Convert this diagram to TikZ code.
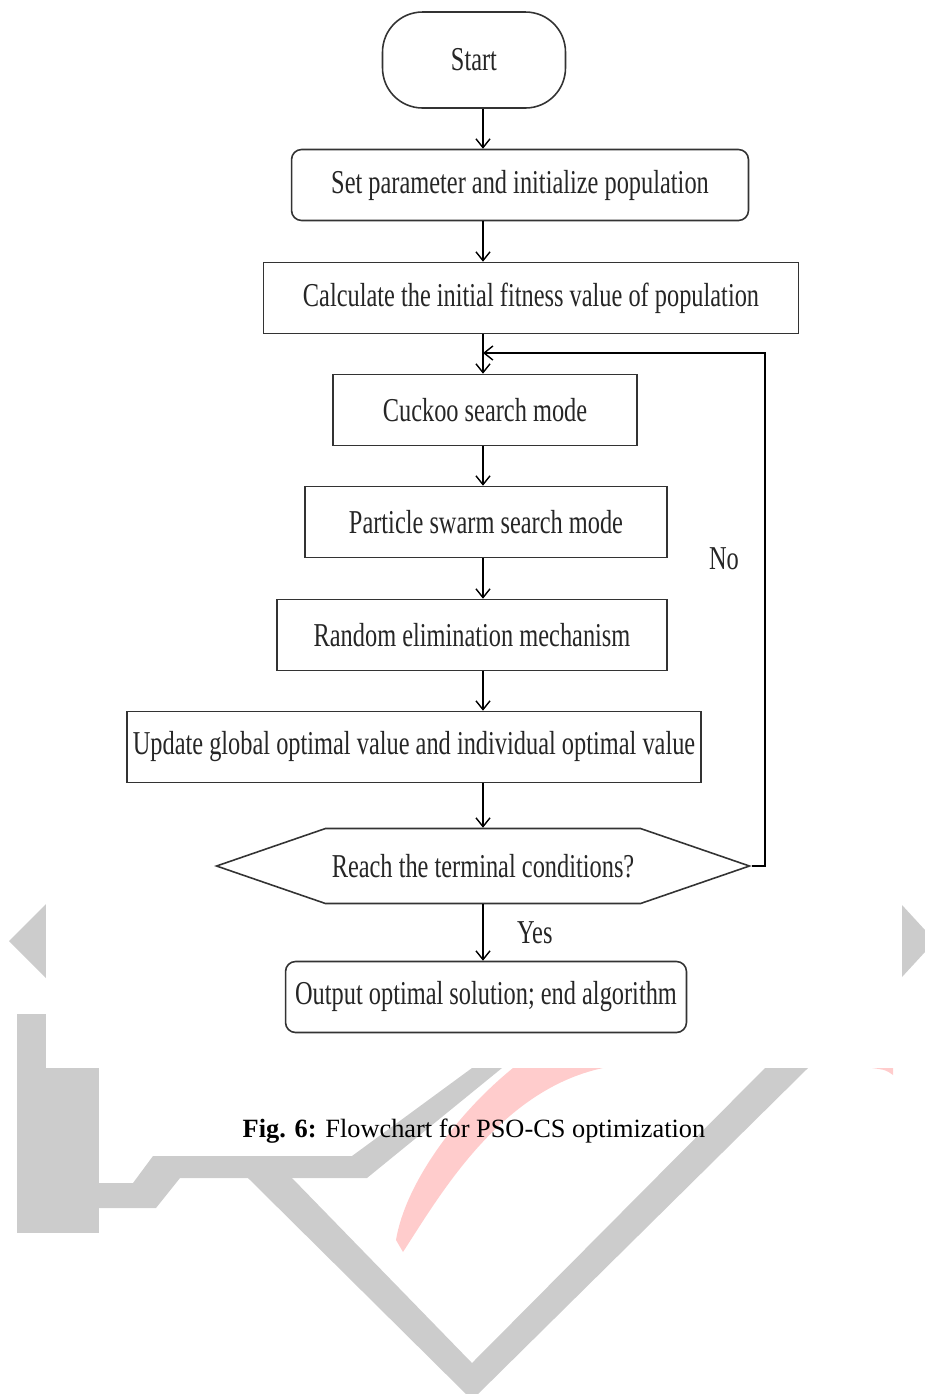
\documentclass[tikz,border=0pt]{standalone}
\usepackage{fontspec}
\setmainfont{Liberation Serif}
\newfontfamily\chartfont[FakeStretch=0.73]{Liberation Serif}
\usetikzlibrary{arrows.meta,shapes.symbols}

\begin{document}
\begin{tikzpicture}[x=0.02cm, y=-0.02cm, line width=0.8pt,
    >={Straight Barb[length=5pt,width=8pt]},
    every node/.style={font=\chartfont\fontsize{19}{22}\selectfont, text=black!85},
    box/.style={draw=black!80, line width=0.9pt, minimum height=1.42cm},
    mark grey/.style={fill=black!20, draw=none},
    mark pink/.style={fill=red!20, draw=none}]
    \useasboundingbox (0,0) rectangle (925,1394);
    \clip (0,0) rectangle (925,1394);

    % watermark behind the figure
    \fill[mark grey] (46,904) -- (9,941) -- (46,978) -- cycle;
    \fill[mark grey] (902,905) -- (925,930) -- (925,952) -- (902,977) -- cycle;
    \fill[mark grey] (17,1014) rectangle (99,1233);
    \fill[mark grey] (99,1183) -- (133,1183) -- (153,1156) -- (352,1156) -- (472,1068)
        -- (502,1068) -- (367,1178) -- (180,1178) -- (156,1208) -- (99,1208) -- cycle;
    \fill[mark grey] (248,1178) -- (472,1400) -- (808,1068) -- (765,1068) -- (472,1363)
        -- (292,1178) -- cycle;
    \fill[mark pink] (513,1068) .. controls (455,1115) and (405,1185) .. (396,1240)
        -- (403,1252) .. controls (440,1195) and (500,1090) .. (603,1068) -- cycle;
    \fill[mark pink] (872,1068) -- (893,1068) -- (893,1075) .. controls (886,1070) .. (872,1068);
    \fill[white] (46,0) rectangle (902,1068);

    \coordinate (axis) at (483,0);
    \coordinate (join) at (483,353);

    \node[box, minimum width=3.66cm, minimum height=1.92cm, rounded corners=0.8cm] (start) at (474,60) {Start};
    \node[box, minimum width=9.14cm, rounded corners=0.2cm] (setp) at (520,185) {Set parameter and initialize population};
    \node[box, minimum width=10.7cm] (calc) at (531,298) {Calculate the initial fitness value of population};
    \node[box, minimum width=6.08cm] (cuckoo) at (485,410) {Cuckoo search mode};
    \node[box, minimum width=7.24cm] (swarm) at (486,522) {Particle swarm search mode};
    \node[box, minimum width=7.8cm] (elim) at (472,635) {Random elimination mechanism};
    \node[box, minimum width=11.48cm] (update) at (414,747) {Update global optimal value and individual optimal value};
    \node[draw=black!80, line width=0.9pt, signal, signal to=east and west, signal pointer angle=38,
        minimum width=10.66cm, minimum height=1.5cm] (check) at (483,866) {Reach the terminal conditions?};
    \node[box, minimum width=8.02cm, rounded corners=0.2cm] (output) at (486,997) {Output optimal solution; end algorithm};

    \path[->] (start.south -| axis) edge (setp.north -| axis);
    \path[->] (setp.south -| axis) edge (calc.north -| axis);
    \path[->] (calc.south -| axis) edge (cuckoo.north -| axis);
    \path[->] (cuckoo.south -| axis) edge (swarm.north -| axis);
    \path[->] (swarm.south -| axis) edge (elim.north -| axis);
    \path[->] (elim.south -| axis) edge (update.north -| axis);
    \path[->] (update.south -| axis) edge (check.north -| axis);
    \path[->] (check.south -| axis) edge node[right=0.55cm] (yes) {Yes} (output.north -| axis);
    \draw[->] (check.east) -- ++(13,0) |- (join);
    \node (no) at (724,559) {No};

    \node[font=\fontsize{15}{18}\selectfont, text=black] (caption) at (474,1131)
        {\textbf{Fig. 6:} Flowchart for PSO-CS optimization};
\end{tikzpicture}
\end{document}
